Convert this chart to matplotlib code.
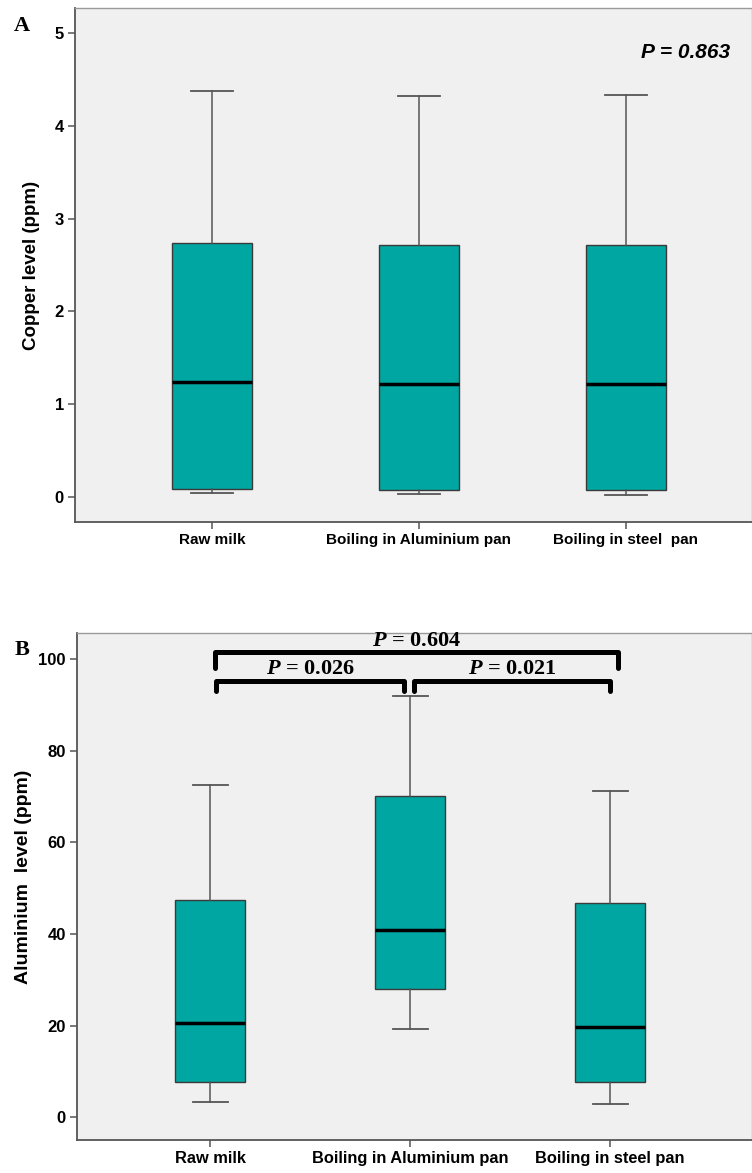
import numpy as np
import matplotlib
matplotlib.use("Agg")
import matplotlib.pyplot as plt

plt.rcParams['font.family'] = ['Liberation Sans', 'DejaVu Sans']
plt.rcParams['mathtext.fontset'] = 'custom'
plt.rcParams['mathtext.it'] = 'Liberation Serif:italic:bold'
plt.rcParams['mathtext.rm'] = 'Liberation Serif:bold'

# group names
groups_A = ["Raw milk", "Boiling in Aluminium pan", "Boiling in steel  pan"]
groups_B = ["Raw milk", "Boiling in Aluminium pan", "Boiling in steel pan"]

# copper (ppm): lower whisker, Q1, median, Q3, upper whisker
cu_low = [0.04, 0.03, 0.02]
cu_q1 = [0.09, 0.08, 0.07]
cu_med = [1.24, 1.22, 1.22]
cu_q3 = [2.74, 2.72, 2.71]
cu_high = [4.38, 4.32, 4.33]

# aluminium (ppm)
al_low = [3.3, 19.2, 2.8]
al_q1 = [7.6, 27.9, 7.6]
al_med = [20.5, 40.8, 19.7]
al_q3 = [47.4, 70.1, 46.8]
al_high = [72.5, 91.9, 71.2]

# pairwise comparisons for panel B: (group i, group j, label, bar level)
pairs_B = [(1, 2, "0.026", 95.2), (2, 3, "0.021", 95.2), (1, 3, "0.604", 101.5)]
p_A = "0.863"

teal = "#00A6A1"
bg = "#F0F0F0"


def make_stats(low, q1, med, q3, high):
    stats = []
    for a in range(len(med)):
        stats.append({"whislo": low[a], "q1": q1[a], "med": med[a],
                      "q3": q3[a], "whishi": high[a], "fliers": []})
    return stats


def draw_box(ax, stats, width, capw):
    ax.bxp(stats, positions=[1, 2, 3], widths=width, capwidths=capw,
           patch_artist=True, showfliers=False,
           boxprops=dict(facecolor=teal, edgecolor="#3a3a3a", linewidth=1.0),
           medianprops=dict(color="black", linewidth=2.5),
           whiskerprops=dict(color="#555555", linewidth=1.1),
           capprops=dict(color="#555555", linewidth=1.3))


def style_axes(ax, labels, xsize):
    ax.set_facecolor(bg)
    for side in ["left", "bottom"]:
        ax.spines[side].set_color("#555555")
        ax.spines[side].set_linewidth(1.3)
    for side in ["top", "right"]:
        ax.spines[side].set_color("#9a9a9a")
        ax.spines[side].set_linewidth(1.0)
    ax.tick_params(axis='both', direction='out', length=5, width=1.1, color="#555555", pad=3)
    ax.set_xticks([1, 2, 3])
    ax.set_xticklabels(labels, fontsize=xsize, fontweight='bold')
    for t in ax.get_yticklabels():
        t.set_fontweight('bold')
        t.set_fontsize(12)


fig = plt.figure(figsize=(7.52, 11.73), dpi=100)

# panel A
axA = fig.add_axes([0.0997, 0.5550, 0.9003, 0.4382])
draw_box(axA, make_stats(cu_low, cu_q1, cu_med, cu_q3, cu_high), 0.39, 0.2)
axA.set_xlim(0.338, 3.609)
axA.set_ylim(-0.27, 5.27)
axA.set_yticks([0, 1, 2, 3, 4, 5])
style_axes(axA, groups_A, 11)
axA.set_ylabel("Copper level (ppm)", fontsize=13.5, fontweight='bold')
axA.yaxis.set_label_coords(-0.052, 0.5)
axA.text(3.29, 4.79, "P = " + p_A, ha='center', va='center', fontsize=15,
         fontweight='bold', fontstyle='italic')
fig.text(0.029, 0.978, "A", fontsize=16, fontweight='bold', family='Liberation Serif',
         ha='center', va='center')

# panel B
axB = fig.add_axes([0.1024, 0.0281, 0.8976, 0.4323])
draw_box(axB, make_stats(al_low, al_q1, al_med, al_q3, al_high), 0.35, 0.175)
axB.set_xlim(0.335, 3.71)
axB.set_ylim(-5.0, 105.7)
axB.set_yticks([0, 20, 40, 60, 80, 100])
style_axes(axB, groups_B, 11.8)
axB.set_ylabel("Aluminium  level (ppm)", fontsize=14, fontweight='bold')
axB.yaxis.set_label_coords(-0.066, 0.52)

for i, j, lab, lvl in pairs_B:
    if j - i == 1:
        x0 = i + 0.03 if i == 1 else i + 0.02
        x1 = j - 0.03 if i == 1 else j
        drop = 2.2
        ty = lvl + 2.6
    else:
        x0 = i + 0.025
        x1 = j + 0.04
        drop = 3.5
        ty = lvl + 2.5
    axB.plot([x0, x0, x1, x1], [lvl - drop, lvl, lvl, lvl - drop], color="black",
             linewidth=3.6, solid_capstyle='round', solid_joinstyle='round', clip_on=False)
    axB.text((x0 + x1) / 2, ty, r"$P$ = " + lab, ha='center', va='center', fontsize=16,
             fontweight='bold', family='Liberation Serif', clip_on=False)

fig.text(0.029, 0.446, "B", fontsize=16, fontweight='bold', family='Liberation Serif',
         ha='center', va='center')

fig.savefig("out.png", dpi=100)
plt.close(fig)
